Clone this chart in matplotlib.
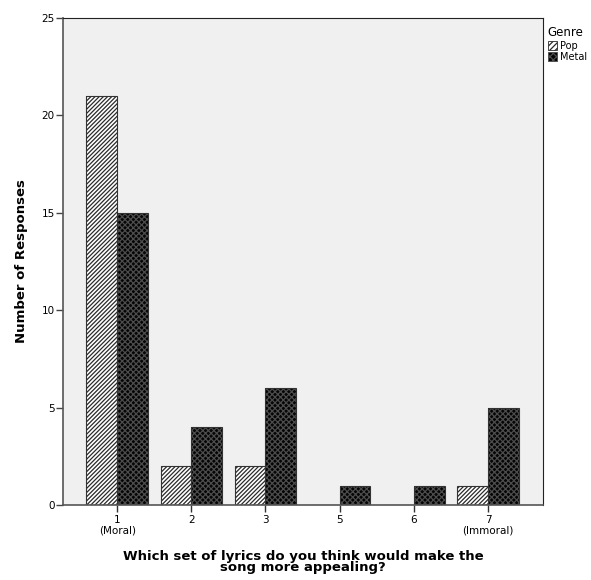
import numpy as np
import matplotlib.pyplot as plt
from matplotlib.patches import Patch

# Responses per rating, by genre
categories = ['1\n(Moral)', '2', '3', '5', '6', '7\n(Immoral)']
pop = [21, 2, 2, 0, 0, 1]
metal = [15, 4, 6, 1, 1, 5]

plt.rcParams['hatch.linewidth'] = 0.9

fig = plt.figure(figsize=(5.91, 5.80), dpi=100)
ax = fig.add_axes([0.1066, 0.1293, 0.812, 0.8397])
ax.set_facecolor('#f0f0f0')

x = np.arange(len(categories))
w = 0.415

# Pop: white with diagonal hatch
ax.bar(x - w / 2, pop, w, color='white', edgecolor='#2a2a2a', hatch='////////', linewidth=0)
ax.bar(x - w / 2, pop, w, fill=False, edgecolor='#333333', linewidth=0.8)
# Metal: near-black with fine checks
ax.bar(x + w / 2, metal, w, color='#050505', edgecolor='#4c4c4c', hatch='xxxxxx', linewidth=0)
ax.bar(x + w / 2, metal, w, fill=False, edgecolor='#333333', linewidth=0.8)

ax.set_xlim(-0.73, 5.74)
ax.set_ylim(0, 25)
ax.set_yticks([0, 5, 10, 15, 20, 25])
ax.set_xticks(x)
ax.set_xticklabels(categories, fontsize=7.5, linespacing=1.05)
ax.tick_params(axis='y', labelsize=7.5, length=5, width=1, color='#444444', pad=1)
ax.tick_params(axis='x', length=5, width=1, color='#333333', pad=2)

for side in ['left', 'bottom']:
    ax.spines[side].set_color('#555555')
    ax.spines[side].set_linewidth(1.2)
for side in ['top', 'right']:
    ax.spines[side].set_color('#222222')
    ax.spines[side].set_linewidth(0.8)

ax.set_ylabel('Number of Responses', fontsize=9.5, fontweight='bold', labelpad=10)
ax.set_xlabel('Which set of lyrics do you think would make the\nsong more appealing?',
              fontsize=9.5, fontweight='bold', linespacing=0.8, labelpad=11)

handles = [Patch(facecolor='white', edgecolor='#2a2a2a', hatch='//////', linewidth=0.6),
           Patch(facecolor='#050505', edgecolor='#4c4c4c', hatch='xxxxx', linewidth=0.6)]
leg = ax.legend(handles, ['Pop', 'Metal'], title='Genre', loc='upper left',
                bbox_to_anchor=(1.008, 0.985), frameon=False, fontsize=7,
                title_fontsize=8.5, handlelength=1.0, handleheight=1.0,
                handletextpad=0.3, borderpad=0.1, labelspacing=0.15, borderaxespad=0)
leg._legend_box.align = 'left'

fig.savefig('out.png', dpi=100)
